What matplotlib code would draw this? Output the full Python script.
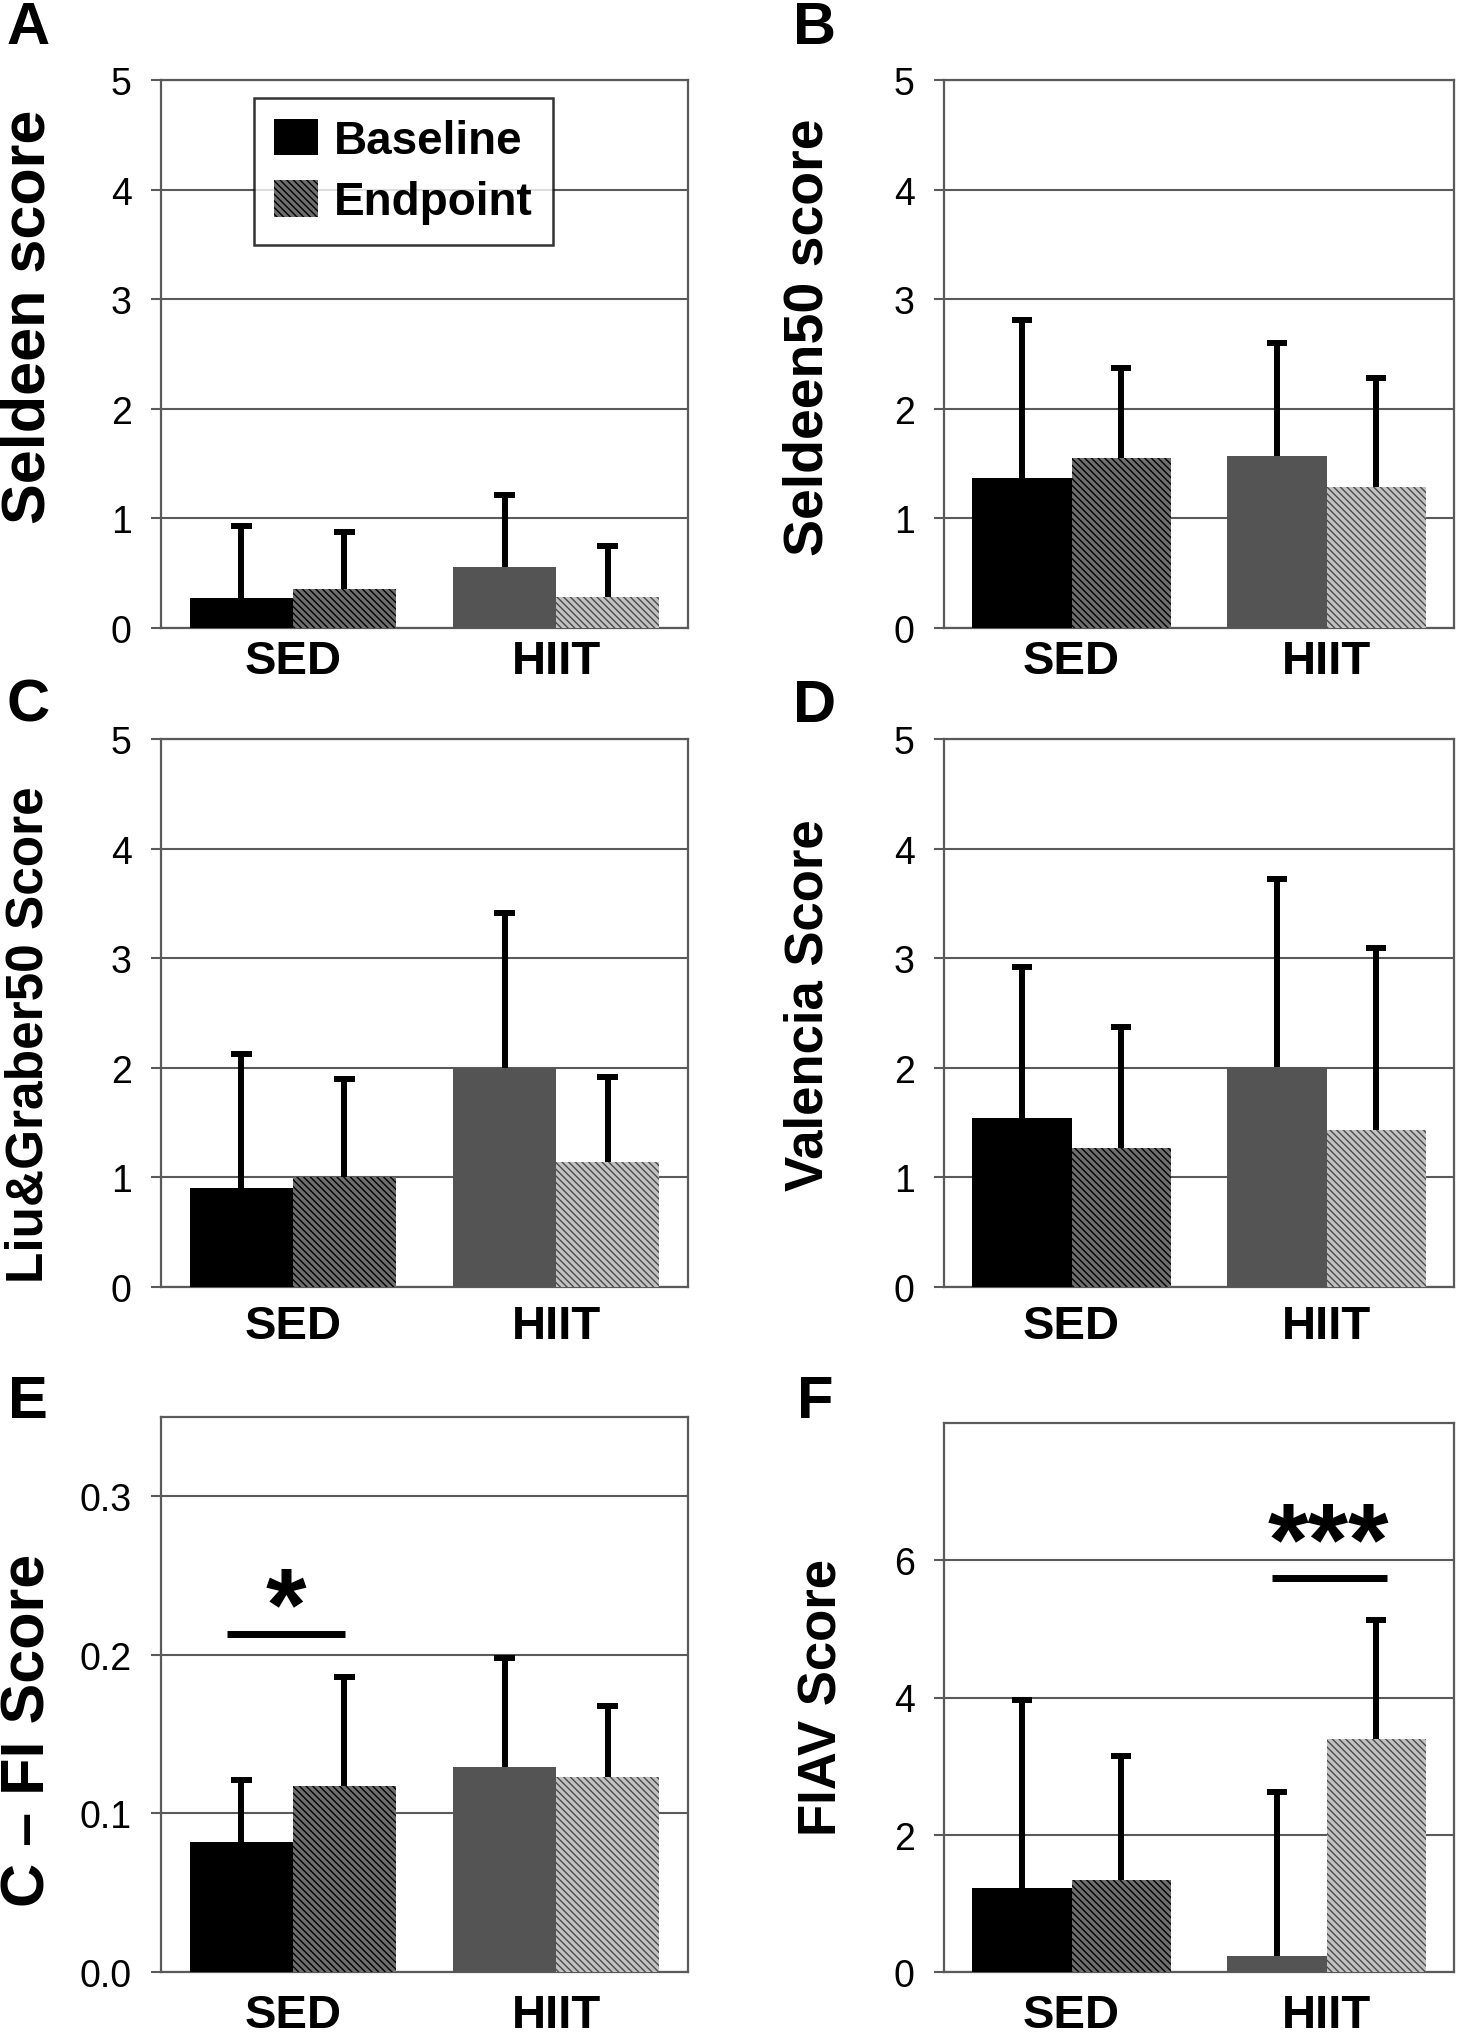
import numpy as np
import matplotlib
matplotlib.use('Agg')
import matplotlib.pyplot as plt

plt.rcParams['font.family'] = ['Liberation Sans', 'DejaVu Sans']
plt.rcParams['hatch.linewidth'] = 1.0

# ---- dados ----
grupos = ['SED', 'HIIT']

a_base = [0.27, 0.56]
a_base_sd = [0.66, 0.65]
a_end = [0.36, 0.28]
a_end_sd = [0.52, 0.47]

b_base = [1.37, 1.57]
b_base_sd = [1.44, 1.03]
b_end = [1.55, 1.29]
b_end_sd = [0.82, 0.99]

c_base = [0.90, 2.00]
c_base_sd = [1.23, 1.41]
c_end = [1.00, 1.14]
c_end_sd = [0.90, 0.78]

d_base = [1.54, 2.01]
d_base_sd = [1.38, 1.71]
d_end = [1.27, 1.43]
d_end_sd = [1.10, 1.66]

e_base = [0.082, 0.129]
e_base_sd = [0.039, 0.069]
e_end = [0.117, 0.123]
e_end_sd = [0.069, 0.045]

f_base = [1.22, 0.24]
f_base_sd = [2.74, 2.39]
f_end = [1.34, 3.40]
f_end_sd = [1.81, 1.73]

W, H = 1471, 2040
fig = plt.figure(figsize=(W / 100, H / 100), dpi=100)

GRID = '#5a5a5a'
BAR_W = 0.39
CAP = 0.04
HATCH = '\\' * 5


def make_axes(l, t, r, b):
    return fig.add_axes([l / W, 1 - b / H, (r - l) / W, (b - t) / H])


def barras_erro(ax, xs, media, sd):
    # só a parte de cima do desvio, como no original
    topo = np.array(media) + np.array(sd)
    ax.vlines(xs, media, topo, color='black', linewidth=4.3, zorder=4)
    ax.hlines(topo, xs - CAP, xs + CAP, color='black', linewidth=4.3, zorder=4)


def painel(ax, base, base_sd, end, end_sd, ylim, yticks, ticklabels, xpad):
    x = np.arange(len(grupos))
    xb = x - BAR_W / 2
    xe = x + BAR_W / 2
    base_cols = ['black', '#545454']
    end_face = ['#6e6e6e', '#c2c2c2']
    end_hatch = ['black', '#4a4a4a']
    for i in range(len(grupos)):
        ax.bar(xb[i], base[i], width=BAR_W, color=base_cols[i], linewidth=0, zorder=3)
        ax.bar(xe[i], end[i], width=BAR_W, facecolor=end_face[i], edgecolor=end_hatch[i],
               hatch=HATCH, linewidth=0, zorder=3)
    barras_erro(ax, xb, base, base_sd)
    barras_erro(ax, xe, end, end_sd)

    ax.set_xlim(-0.5, 1.5)
    ax.set_ylim(*ylim)
    ax.set_yticks(yticks)
    ax.set_yticklabels(ticklabels, fontsize=27)
    ax.set_xticks(x)
    ax.set_xticklabels(grupos, fontsize=34, fontweight='bold')
    ax.tick_params(axis='x', length=0, pad=xpad)
    ax.tick_params(axis='y', length=7, width=1.5, color=GRID, pad=14, direction='out')
    ax.yaxis.grid(True, color=GRID, linewidth=1.5, zorder=0)
    ax.set_axisbelow(True)
    for s in ax.spines.values():
        s.set_color(GRID)
        s.set_linewidth(1.6)


ax_a = make_axes(161, 81, 688, 629)
ax_b = make_axes(944, 81, 1454, 629)
ax_c = make_axes(161, 740, 688, 1288)
ax_d = make_axes(944, 740, 1454, 1288)
ax_e = make_axes(161, 1418, 688, 1973)
ax_f = make_axes(944, 1424, 1454, 1973)

t5 = [0, 1, 2, 3, 4, 5]
l5 = [str(v) for v in t5]
painel(ax_a, a_base, a_base_sd, a_end, a_end_sd, (0, 5), t5, l5, 8)
painel(ax_b, b_base, b_base_sd, b_end, b_end_sd, (0, 5), t5, l5, 8)
painel(ax_c, c_base, c_base_sd, c_end, c_end_sd, (0, 5), t5, l5, 12)
painel(ax_d, d_base, d_base_sd, d_end, d_end_sd, (0, 5), t5, l5, 12)
painel(ax_e, e_base, e_base_sd, e_end, e_end_sd, (0, 0.35),
       [0, 0.1, 0.2, 0.3], ['0.0', '0.1', '0.2', '0.3'], 15)
painel(ax_f, f_base, f_base_sd, f_end, f_end_sd, (0, 8),
       [0, 2, 4, 6], ['0', '2', '4', '6'], 15)

# legenda no painel A
ax_a.bar([0], [0], color='black', label='Baseline')
ax_a.bar([0], [0], facecolor='#6e6e6e', edgecolor='black', hatch=HATCH, linewidth=0, label='Endpoint')
leg = ax_a.legend(loc='upper left', bbox_to_anchor=(0.176, 0.967), borderaxespad=0,
                  prop={'size': 33, 'weight': 'bold'}, frameon=True, fancybox=False,
                  handlelength=0.95, handleheight=0.85, handletextpad=0.35,
                  labelspacing=0.38, borderpad=0.45)
leg.get_frame().set_edgecolor('black')
leg.get_frame().set_linewidth(1.8)
leg.set_zorder(10)

# significância
ax_e.plot([-0.25, 0.2], [0.213, 0.213], color='black', linewidth=5, solid_capstyle='butt', zorder=5)
ax_e.text(-0.027, 0.210, '*', fontsize=75, fontweight='bold', ha='center', va='baseline', zorder=5)
ax_f.plot([0.786, 1.239], [5.74, 5.74], color='black', linewidth=5, solid_capstyle='butt', zorder=5)
ax_f.text(1.008, 5.80, '***', fontsize=75, fontweight='bold', ha='center', va='baseline', zorder=5)

# rótulos dos eixos y
rotulos = [
    ('Seldeen score', 29, 317, 44),
    ('Seldeen50 score', 809, 337, 40),
    ('Liu&Graber50 Score', 29, 1035, 37),
    ('Valencia Score', 809, 1005, 38),
    ('C \u2013 FI Score', 29, 1730, 44),
    ('FIAV Score', 822, 1697, 38),
]
for txt, px, py, fs in rotulos:
    fig.text(px / W, 1 - py / H, txt, rotation=90, fontsize=fs, fontweight='bold',
             ha='center', va='center')

# letras dos painéis
letras = [('A', 28, 28), ('B', 815, 28), ('C', 28, 706), ('D', 815, 706), ('E', 28, 1402), ('F', 815, 1402)]
for txt, px, py in letras:
    fig.text(px / W, 1 - py / H, txt, fontsize=43, fontweight='bold', ha='center', va='center')

plt.savefig('out.png', dpi=100)
